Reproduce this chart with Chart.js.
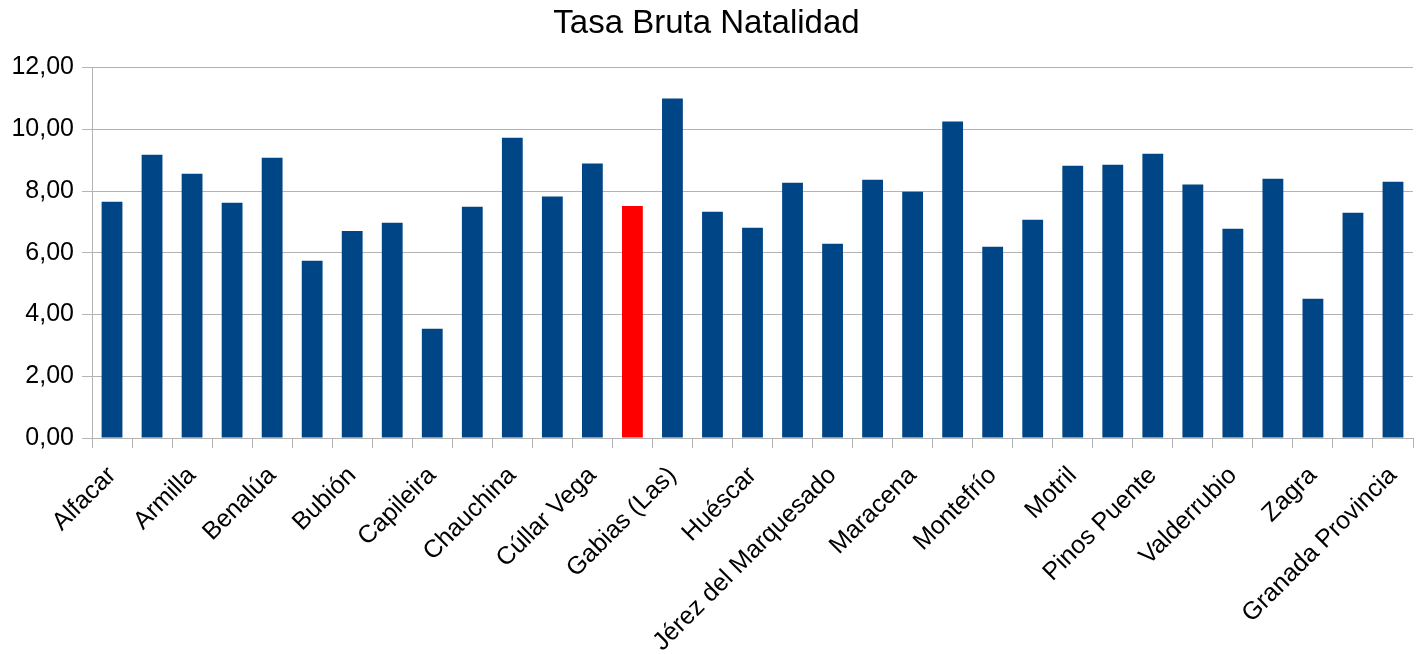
<!DOCTYPE html>
<html>
<head>
<meta charset="utf-8">
<script src="https://cdn.jsdelivr.net/npm/chart.js@4"></script>
<style>
  html, body { margin: 0; padding: 0; background: #fff; }
  #wrap { width: 1421px; height: 654px; }
</style>
</head>
<body>
<div id="wrap"><canvas id="natalidad"></canvas></div>
<script>
// municipios (solo se muestran uno de cada dos en el eje)
const municipios = [
    'Alfacar', 'Alhendín', 'Armilla', 'Atarfe', 'Benalúa', 'Benamaurel', 'Bubión', 'Cájar',
    'Capileira', 'Cenes de la Vega', 'Chauchina', 'Churriana de la Vega', 'Cúllar Vega',
    'Fuente Vaqueros', 'Gabias (Las)', 'Guadix', 'Huéscar', 'Íllora', 'Jérez del Marquesado',
    'Loja', 'Maracena', 'Monachil', 'Montefrío', 'Moraleda de Zafayona', 'Motril', 'Ogíjares',
    'Pinos Puente', 'Santa Fe', 'Valderrubio', 'Vegas del Genil', 'Zagra', 'Zubia (La)',
    'Granada Provincia'
];
const tasaNatalidad = [
    7.65, 9.18, 8.56, 7.62, 9.08, 5.74, 6.71, 6.97, 3.54, 7.49, 9.73, 7.82, 8.89,
    7.52, 11.0, 7.33, 6.81, 8.27, 6.29, 8.37, 7.98, 10.25, 6.20, 7.07, 8.82, 8.85,
    9.21, 8.21, 6.78, 8.40, 4.51, 7.30, 8.30
];
const destacado = 'Fuente Vaqueros';
const yTicks = [0, 2, 4, 6, 8, 10, 12];

const colores = municipios.map(m => m === destacado ? '#ff0000' : '#004586');

const ctx = document.getElementById('natalidad');
if (ctx) {
    new Chart(ctx.getContext('2d'), {
        type: 'bar',
        data: {
            labels: municipios,
            datasets: [{
                label: 'Tasa Bruta Natalidad',
                data: tasaNatalidad,
                backgroundColor: colores,
                barPercentage: 0.52,
                categoryPercentage: 1.0
            }]
        },
        options: {
            responsive: true,
            maintainAspectRatio: false,
            animation: false,
            layout: { padding: { left: 0, right: 8, top: 0, bottom: 0 } },
            plugins: {
                legend: { display: false },
                tooltip: { enabled: false },
                title: {
                    display: true,
                    text: 'Tasa Bruta Natalidad',
                    color: '#000',
                    font: { family: 'Liberation Sans', size: 33, weight: 'normal' },
                    padding: { top: 4, bottom: 24 }
                }
            },
            scales: {
                x: {
                    offset: true,
                    afterFit: axis => {
                        axis.height = 216;
                        axis.paddingLeft = 0;
                        axis.paddingRight = 0;
                    },
                    grid: {
                        offset: true,
                        drawOnChartArea: false,
                        color: '#b3b3b3',
                        tickLength: 10,
                        lineWidth: 1
                    },
                    border: { color: '#b3b3b3' },
                    ticks: {
                        autoSkip: false,
                        minRotation: 45,
                        maxRotation: 45,
                        color: '#000',
                        padding: 13,
                        font: { family: 'Liberation Sans', size: 25 },
                        callback: function (val, i) {
                            return i % 2 === 0 ? this.getLabelForValue(val) : '';
                        }
                    }
                },
                y: {
                    min: 0,
                    max: 12,
                    afterFit: axis => { axis.width = 92; },
                    afterBuildTicks: axis => { axis.ticks = yTicks.map(v => ({ value: v })); },
                    grid: { color: '#b3b3b3', tickLength: 10 },
                    border: { color: '#b3b3b3' },
                    ticks: {
                        color: '#000',
                        padding: 8,
                        font: { family: 'Liberation Sans', size: 25 },
                        callback: v => v.toFixed(2).replace('.', ',')
                    }
                }
            }
        }
    });
} else {
    console.error("Canvas element with id 'natalidad' not found.");
}
</script>
</body>
</html>
